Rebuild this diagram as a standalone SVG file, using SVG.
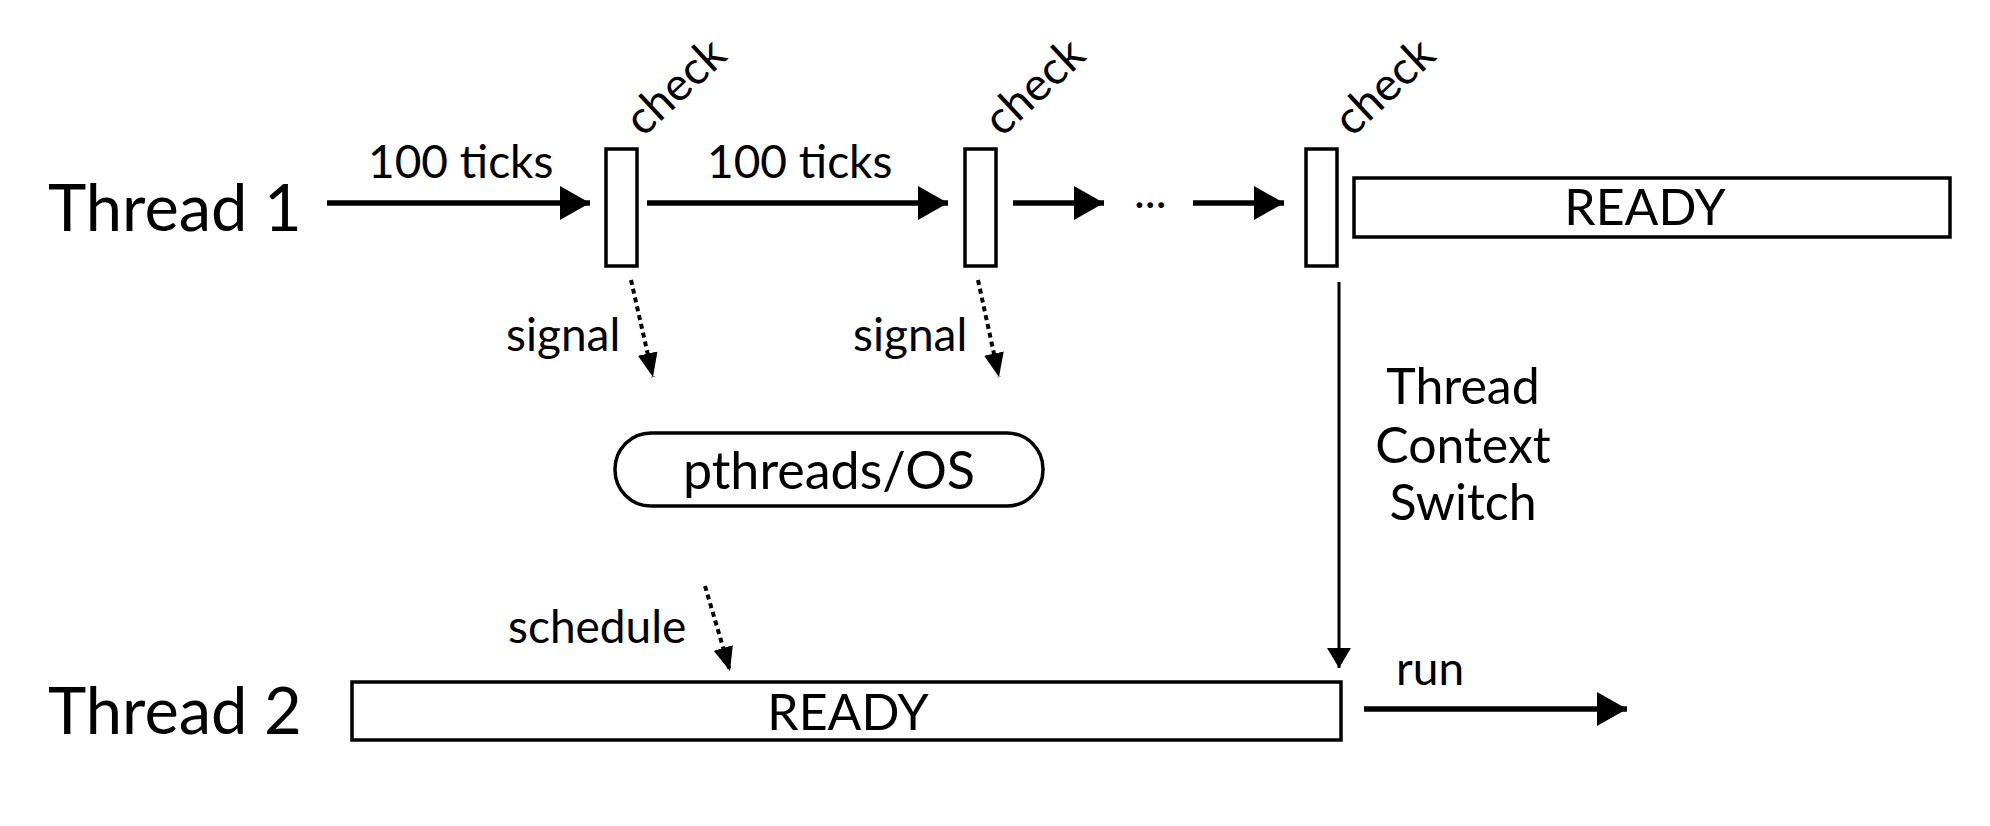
<svg xmlns="http://www.w3.org/2000/svg" width="1990" height="826" viewBox="0 0 1990 826">
<defs>
<style>
text{font-family:Lato,"Open Sans","Liberation Sans",sans-serif;fill:#000}
.big{font-size:65px}
.lbl{font-size:46px}
.mid{font-size:50px}
.box{fill:#fff;stroke:#000;stroke-width:3.5}
.thick{stroke:#000;stroke-width:5.5;fill:none}
.thin{stroke:#000;stroke-width:3;fill:none}
.dot{stroke:#000;stroke-width:4;stroke-dasharray:5 4;fill:none}
</style>
<marker id="ah" markerUnits="userSpaceOnUse" markerWidth="32" markerHeight="34" refX="30" refY="17" orient="auto"><path d="M0,0 L30,17 L0,34 Z" fill="#000"/></marker>
<marker id="ahs" markerUnits="userSpaceOnUse" markerWidth="22" markerHeight="30" refX="20" refY="15" orient="auto"><path d="M0,3 L20,15 L0,27 Z" fill="#000"/></marker>
<marker id="ahd" markerUnits="userSpaceOnUse" markerWidth="26" markerHeight="24" refX="24" refY="12" orient="auto"><path d="M0,2 L24,12 L0,22 Z" fill="#000"/></marker>
</defs>
<rect width="1990" height="826" fill="#fff"/>
<g id="labels">
<text class="big" x="48" y="231">Thread 1</text>
<text class="big" x="48" y="734">Thread 2</text>
</g>
<g id="check1"><rect class="box" x="606" y="149" width="31" height="117"/><text class="lbl" transform="translate(643,138) rotate(-43)">check</text></g>
<g id="check2"><rect class="box" x="965" y="149" width="31" height="117"/><text class="lbl" transform="translate(1002,138) rotate(-43)">check</text></g>
<g id="check3"><rect class="box" x="1306" y="149" width="31" height="117"/><text class="lbl" transform="translate(1352,138) rotate(-43)">check</text></g>
<g id="ready1"><rect class="box" x="1354" y="178" width="596" height="59"/><text class="mid" x="1645" y="225" text-anchor="middle">READY</text></g>
<g id="ready2"><rect class="box" x="352" y="682" width="989" height="58"/><text class="mid" x="848" y="730" text-anchor="middle">READY</text></g>
<g id="os"><rect class="box" x="615" y="433" width="428" height="73" rx="36" ry="36"/><text x="829" y="489" text-anchor="middle" style="font-size:52px">pthreads/OS</text></g>
<g id="connectors">
<line class="thick" x1="327" y1="203" x2="590" y2="203" marker-end="url(#ah)"/>
<line class="thick" x1="647" y1="203" x2="948" y2="203" marker-end="url(#ah)"/>
<line class="thick" x1="1013" y1="203" x2="1104" y2="203" marker-end="url(#ah)"/>
<line class="thick" x1="1193" y1="203" x2="1284" y2="203" marker-end="url(#ah)"/>
<line class="thick" x1="1364" y1="709" x2="1627" y2="709" marker-end="url(#ah)"/>
<line class="thin" x1="1339" y1="282" x2="1339" y2="668" marker-end="url(#ahs)"/>
<line class="dot" x1="631" y1="280" x2="653" y2="377" marker-end="url(#ahd)"/>
<line class="dot" x1="978" y1="280" x2="999" y2="377" marker-end="url(#ahd)"/>
<line class="dot" x1="705" y1="586" x2="730" y2="671" marker-end="url(#ahd)"/>
</g>
<g id="edge-labels">
<text class="lbl" x="368" y="178">100 ticks</text>
<text class="lbl" x="707" y="178">100 ticks</text>
<text class="lbl" x="1134" y="208">...</text>
<text class="lbl" x="506" y="351">signal</text>
<text class="lbl" x="853" y="351">signal</text>
<text class="lbl" x="508" y="643">schedule</text>
<text class="lbl" x="1396" y="685">run</text>
<text class="mid" x="1463" y="404" text-anchor="middle">Thread</text>
<text class="mid" x="1463" y="463" text-anchor="middle">Context</text>
<text class="mid" x="1463" y="520" text-anchor="middle">Switch</text>
</g>
</svg>
